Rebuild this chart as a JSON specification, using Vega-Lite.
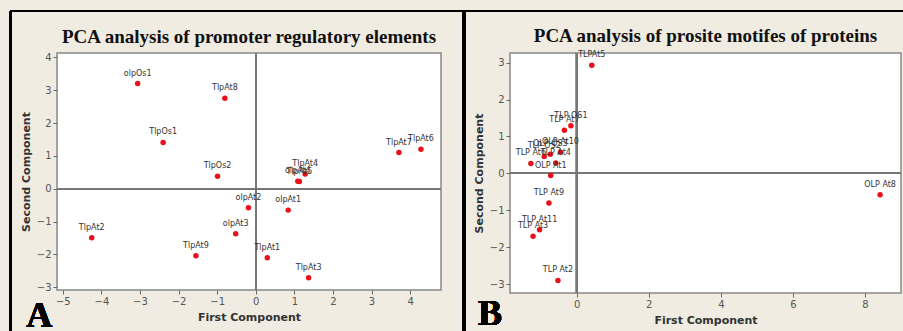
{
  "$schema": "https://vega.github.io/schema/vega-lite/v6.json",
  "background": "#f0ece2",
  "padding": {"left": 8, "top": 8, "right": 0, "bottom": 0},
  "spacing": 69,
  "bounds": "flush",
  "datasets": {
    "pa": [
      {"name": "olpOs1", "pc1": -3.06, "pc2": 3.20},
      {"name": "TlpAt8", "pc1": -0.80, "pc2": 2.75},
      {"name": "TlpOs1", "pc1": -2.40, "pc2": 1.41},
      {"name": "TlpOs2", "pc1": -0.99, "pc2": 0.38},
      {"name": "TlpAt7", "pc1": 3.71, "pc2": 1.10},
      {"name": "TlpAt6", "pc1": 4.28, "pc2": 1.20},
      {"name": "TlpAt4", "pc1": 1.28, "pc2": 0.45},
      {"name": "TlpAt5", "pc1": 1.13, "pc2": 0.22},
      {"name": "olpAt4", "pc1": 1.09, "pc2": 0.23},
      {"name": "olpAt2", "pc1": -0.19, "pc2": -0.58},
      {"name": "olpAt1", "pc1": 0.84, "pc2": -0.65},
      {"name": "TlpAt2", "pc1": -4.25, "pc2": -1.49},
      {"name": "olpAt3", "pc1": -0.52, "pc2": -1.37},
      {"name": "TlpAt9", "pc1": -1.55, "pc2": -2.04},
      {"name": "TlpAt1", "pc1": 0.30, "pc2": -2.10},
      {"name": "TlpAt3", "pc1": 1.37, "pc2": -2.71}
    ],
    "pb": [
      {"name": "TLPAt5", "pc1": 0.42, "pc2": 2.93},
      {"name": "TLP OS1", "pc1": -0.16, "pc2": 1.29},
      {"name": "TLP At7", "pc1": -0.34, "pc2": 1.17},
      {"name": "OLP At10", "pc1": -0.45, "pc2": 0.57},
      {"name": "OLP OS3", "pc1": -0.73, "pc2": 0.52},
      {"name": "TLP OS2", "pc1": -0.90, "pc2": 0.46},
      {"name": "TLP At4", "pc1": -0.58, "pc2": 0.28},
      {"name": "TLP At6", "pc1": -1.27, "pc2": 0.27},
      {"name": "OLP At1", "pc1": -0.72, "pc2": -0.06},
      {"name": "TLP At9", "pc1": -0.77, "pc2": -0.80},
      {"name": "TLP At11", "pc1": -1.03, "pc2": -1.53},
      {"name": "TLP At3", "pc1": -1.21, "pc2": -1.70},
      {"name": "TLP At2", "pc1": -0.52, "pc2": -2.90},
      {"name": "OLP At8", "pc1": 8.42, "pc2": -0.58}
    ]
  },
  "hconcat": [
    {
      "title": "PCA analysis of promoter regulatory elements",
      "width": 384,
      "height": 237,
      "data": {"name": "pa"},
      "encoding": {
        "x": {"field": "pc1", "type": "quantitative", "title": "First Component",
              "scale": {"domain": [-5.15, 4.8], "nice": false, "zero": false},
              "axis": {"values": [-5, -4, -3, -2, -1, 0, 1, 2, 3, 4]}},
        "y": {"field": "pc2", "type": "quantitative", "title": "Second Component",
              "scale": {"domain": [-3.08, 4.13], "nice": false, "zero": false},
              "axis": {"values": [-3, -2, -1, 0, 1, 2, 3, 4]}}
      },
      "layer": [
        {"mark": {"type": "rule", "color": "#000", "strokeWidth": 2},
         "encoding": {"x": {"datum": -6.35}, "x2": {"datum": 5.4}, "y": {"datum": 5.41}}},
        {"mark": {"type": "rule", "color": "#000", "strokeWidth": 2},
         "encoding": {"x": {"datum": -6.35}, "y": {"datum": 5.41}, "y2": {"datum": -4.5}}},
        {"mark": {"type": "text", "font": "Liberation Serif", "fontWeight": "bold", "fontSize": 36, "color": "#000", "align": "left", "baseline": "alphabetic"},
         "encoding": {"x": {"datum": -5.95}, "y": {"datum": -4.21}, "text": {"value": "A"}}},
        {"mark": {"type": "rule", "color": "#777", "strokeWidth": 1.5}, "encoding": {"x": {"datum": 0}, "y": null}},
        {"mark": {"type": "rule", "color": "#777", "strokeWidth": 1.5}, "encoding": {"y": {"datum": 0}, "x": null}},
        {"mark": {"type": "point", "filled": true, "color": "#e8101a", "size": 30, "opacity": 1}},
        {"mark": {"type": "text", "fontSize": 8, "font": "DejaVu Sans", "color": "#333", "dy": -6, "baseline": "bottom"},
         "encoding": {"text": {"field": "name"}}}
      ]
    },
    {
      "title": "PCA analysis of prosite motifes of proteins",
      "width": 391,
      "height": 240,
      "data": {"name": "pb"},
      "encoding": {
        "x": {"field": "pc1", "type": "quantitative", "title": "First Component",
              "scale": {"domain": [-1.85, 9.0], "nice": false, "zero": false},
              "axis": {"values": [0, 2, 4, 6, 8]}},
        "y": {"field": "pc2", "type": "quantitative", "title": "Second Component",
              "scale": {"domain": [-3.24, 3.26], "nice": false, "zero": false},
              "axis": {"values": [-3, -2, -1, 0, 1, 2, 3]}}
      },
      "layer": [
        {"mark": {"type": "rule", "color": "#000", "strokeWidth": 2},
         "encoding": {"x": {"datum": -3.13}, "x2": {"datum": 9.3}, "y": {"datum": 4.40}}},
        {"mark": {"type": "rule", "color": "#000", "strokeWidth": 3},
         "encoding": {"x": {"datum": -3.13}, "y": {"datum": 4.40}, "y2": {"datum": -4.5}}},
        {"mark": {"type": "text", "font": "Liberation Serif", "fontWeight": "bold", "fontSize": 36, "color": "#000", "align": "left", "baseline": "alphabetic"},
         "encoding": {"x": {"datum": -2.74}, "y": {"datum": -4.11}, "text": {"value": "B"}}},
        {"mark": {"type": "rule", "color": "#777", "strokeWidth": 1.5}, "encoding": {"x": {"datum": 0}, "y": null}},
        {"mark": {"type": "rule", "color": "#777", "strokeWidth": 1.5}, "encoding": {"y": {"datum": 0}, "x": null}},
        {"mark": {"type": "point", "filled": true, "color": "#e8101a", "size": 30, "opacity": 1}},
        {"mark": {"type": "text", "fontSize": 8, "font": "DejaVu Sans", "color": "#333", "dy": -6, "baseline": "bottom"},
         "encoding": {"text": {"field": "name"}}}
      ]
    }
  ],
  "config": {
    "view": {"fill": "white", "stroke": "#888", "strokeWidth": 1.5},
    "axis": {"grid": false, "domain": false, "labelFont": "DejaVu Sans", "labelFontSize": 10, "labelColor": "#555",
             "tickColor": "#666", "tickSize": 4, "labelPadding": 2,
             "titleFont": "DejaVu Sans", "titleFontSize": 11, "titleFontWeight": "bold", "titleColor": "#333", "titlePadding": 5},
    "title": {"font": "Liberation Serif", "fontSize": 19, "fontWeight": "bold", "color": "#111", "offset": -37, "frame": "group"}
  }
}
